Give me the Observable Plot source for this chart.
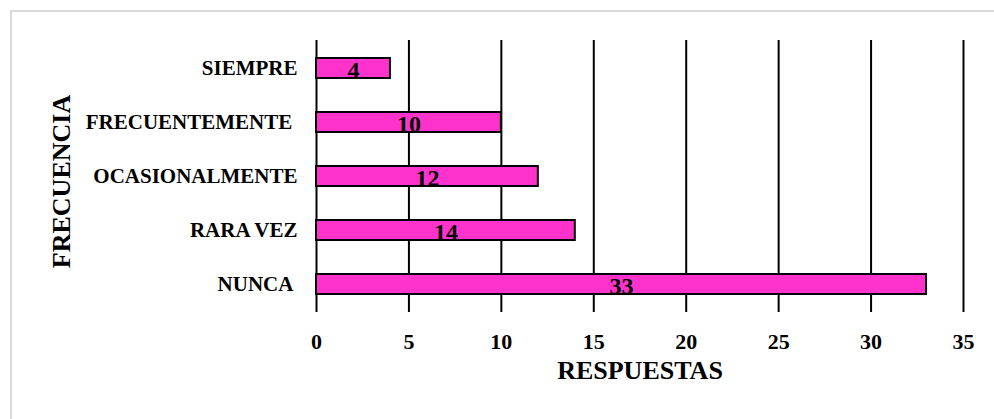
<!DOCTYPE html>
<html>
<head>
<meta charset="utf-8">
<script src="https://cdn.jsdelivr.net/npm/d3@7"></script>
<script src="https://cdn.jsdelivr.net/npm/@observablehq/plot@0.6"></script>
<style>
  html, body { margin: 0; padding: 0; background: #fff; }
  #wrap { position: relative; width: 994px; height: 419px; overflow: hidden; }
  #frame { position: absolute; left: 10px; top: 10px; width: 1000px; height: 500px;
           border-top: 2px solid #d9d9d9; border-left: 2px solid #d9d9d9; box-sizing: border-box; }
  #chart { position: absolute; left: 0; top: 0; }
  #chart svg text { white-space: pre; }
</style>
</head>
<body>
<div id="wrap"><div id="frame"></div><div id="chart"></div></div>
<script>
const categories = ["SIEMPRE", "FRECUENTEMENTE ", "OCASIONALMENTE", "RARA VEZ", "NUNCA "];
const values = [4, 10, 12, 14, 33];
const xTicks = [0, 5, 10, 15, 20, 25, 30, 35];
const xTitle = "RESPUESTAS";
const yTitle = "FRECUENCIA";

const data = categories.map((c, i) => ({cat: c, value: values[i]}));
const font = "'Liberation Serif', 'Times New Roman', serif";

const chart = Plot.plot({
  width: 994,
  height: 419,
  marginLeft: 316,
  marginRight: 31,
  marginTop: 40,
  marginBottom: 107,
  style: {fontFamily: font, fontWeight: "bold", color: "#000", background: "transparent", overflow: "visible"},
  x: {domain: [0, 35], ticks: xTicks},
  y: {domain: categories, paddingInner: 0.63, paddingOuter: 0.315},
  marks: [
    Plot.ruleX(xTicks, {stroke: "#000", strokeWidth: 2}),
    Plot.barX(data, {x: "value", y: "cat", fill: "#FF33CC", stroke: "#000", strokeWidth: 2}),
    Plot.text(data, {x: d => d.value / 2, y: "cat", text: d => String(d.value), fontSize: 24, fontWeight: "bold", fill: "#000", dy: 2}),
    Plot.axisX({ticks: xTicks, tickSize: 0, tickPadding: 21, fontSize: 22, fontWeight: "bold", label: null, tickFormat: d => String(d)}),
    Plot.axisY({tickSize: 0, tickPadding: 19, fontSize: 21, fontWeight: "bold", label: null}),
    Plot.text([xTitle], {frameAnchor: "bottom", dy: 66, text: d => d, fontSize: 26, fontWeight: "bold", fill: "#000"}),
    Plot.text([yTitle], {frameAnchor: "left", textAnchor: "middle", dx: -255, dy: 5, rotate: -90, text: d => d, fontSize: 26, fontWeight: "bold", fill: "#000"})
  ]
});
document.getElementById("chart").appendChild(chart);
</script>
</body>
</html>
